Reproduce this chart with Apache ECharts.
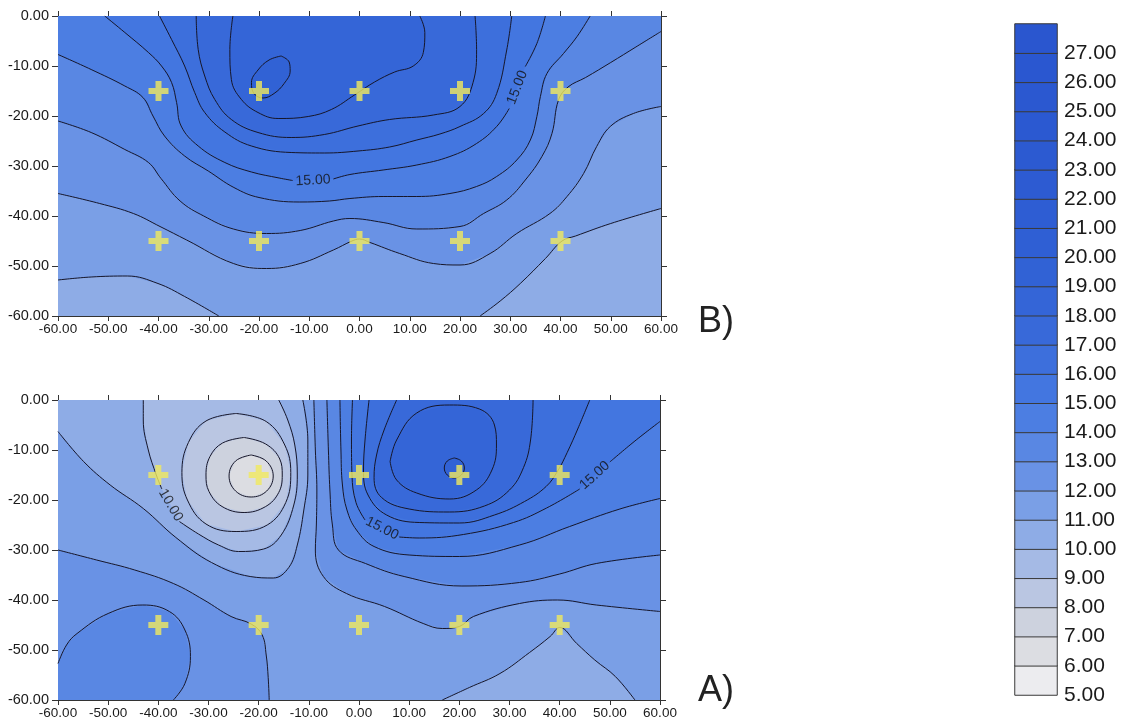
<!DOCTYPE html>
<html>
<head>
<meta charset="utf-8">
<script src="https://cdn.jsdelivr.net/npm/echarts@6/dist/echarts.min.js"></script>
<style>
html,body{margin:0;padding:0;background:#fff;}
#main{width:1135px;height:726px;}
</style>
</head>
<body>
<div id="main"></div>
<script>
// colour scale 5.00 ... 27.00
var levels = [5,6,7,8,9,10,11,12,13,14,15,16,17,18,19,20,21,22,23,24,25,26,27];
var bandColors = ['#ececef','#dcdde2','#cdd2de','#bac6e2','#a5bae5','#8eace6','#7a9fe6','#6992e5','#5987e3','#4c7ee2',
  '#4376e0','#3d6fdc','#3869d9','#3465d7','#3162d5','#2f5fd4','#2e5dd3','#2d5bd2','#2c5ad1','#2b59d1','#2b58d0','#2a57d0','#2a56cf'];

// measuring points
var wellX = [-40,-20,0,20,40];
var wellY = [-15,-45];

// ---- panel B contour lines, [x, y] in axis units
var b19 = [[-15.6,-8],[-14,-9.2],[-13.8,-11],[-15,-13.5],[-17,-15.5],[-19.2,-16.4],[-21,-15.5],[-21.5,-13.3],[-20.2,-10.8],[-18,-8.8],[-15.6,-8]];
var b18 = [[-25.2,0],[-25.8,-6.7],[-25.5,-12.7],[-23.5,-16.7],[-20.2,-19.3],[-16.2,-20.5],[-10.2,-20.1],[-5.6,-18.7],[-1,-15.8],[3,-13.2],[7,-11.2],[10.7,-10],[12.7,-7.3],[13,-3.3],[12,0]];
var b17 = [[-32.5,0],[-32.1,-6.7],[-30.8,-12],[-28.8,-16.7],[-25.5,-20.7],[-20.2,-23.3],[-13.6,-24.3],[-7,-23.7],[-0.3,-22],[6,-20.7],[14.7,-19.8],[20,-18.1],[22.6,-13.3],[23.3,-6.7],[23,0]];
var b16 = [[-39.8,0],[-37.4,-4.7],[-34.8,-10],[-32.8,-15.3],[-30.8,-19.3],[-26.8,-23.2],[-21.5,-26],[-13.6,-27.3],[-7,-27.4],[-0.3,-27],[6,-26.2],[11.4,-24.8],[16,-23.6],[20,-22.1],[24.7,-19.5],[27.3,-15.5],[29.3,-6.8],[30.3,0]];
var b15a = [[-50.7,0],[-46.7,-3.3],[-42,-7.3],[-39.4,-10],[-37.4,-13.3],[-36.4,-17.3],[-35.5,-22],[-32.1,-26],[-26.8,-29.3],[-21.5,-31.2],[-16,-32.4],[-13.3,-32.9]];
var b15b = [[-5.2,-32.6],[-1.9,-31.7],[4.7,-30.8],[11.4,-29.8],[18,-28.1],[23.3,-25.5],[27.3,-22.1],[29.8,-18.5]];
var b15c = [[33,-10.1],[35.3,-5.5],[37,0]];
var b14 = [[-60,-7.7],[-53.4,-10.7],[-46.7,-14],[-43.1,-16.3],[-41.1,-20],[-38.8,-24],[-34.8,-28],[-30.1,-31],[-25,-34.3],[-20,-36.3],[-12,-37.2],[-6,-37],[-1.9,-36.5],[4.7,-36.1],[11.4,-36.1],[18,-35.5],[23.3,-34.1],[27.3,-32.1],[31.3,-28.8],[34,-24.8],[35.3,-20.1],[36,-16.1],[37.3,-11.5],[40.6,-7.5],[43.3,-4.1],[45.9,0]];
var b13 = [[-60,-21],[-53.4,-23.3],[-46.7,-26.7],[-42,-29.3],[-39.5,-32.5],[-35.7,-37],[-31,-40],[-25.1,-42.6],[-18.5,-43.5],[-11.8,-42.9],[-5.2,-41],[-1.9,-40.5],[4.7,-41.3],[11.4,-42.6],[20,-42.1],[24.7,-39.5],[29.3,-36.8],[33,-32.8],[36.3,-28.1],[38.3,-23.5],[39.6,-16.8],[41.5,-14.2],[45,-12.3],[50,-9.3],[55,-6.2],[60,-3.1]];
var b12 = [[-60,-35.5],[-51.7,-37.5],[-45,-39.5],[-39.7,-42.1],[-34.4,-44.8],[-25.1,-49.5],[-18.5,-50.5],[-11.8,-49.5],[-5.2,-46.8],[-1.5,-45],[0,-44.6],[2.1,-45.3],[8,-47.5],[14.7,-49.5],[20,-49.8],[26,-47.5],[31.3,-43.5],[37.9,-39.5],[41.3,-36.1],[44.6,-31.5],[47.2,-26.1],[49.9,-22.1],[54.5,-19.5],[60,-18.1]];
var b11a = [[-60,-52.8],[-53.4,-52.2],[-46.2,-52],[-40.1,-53.5],[-34.8,-56.1],[-28,-60]];
var b11b = [[60,-38.5],[50,-41.5],[43,-44],[40.3,-45],[37,-48.5],[32,-53.5],[28,-57],[24,-60]];

// ---- panel A contour lines
var a19 = [[19,-11.6],[20.4,-12.2],[21,-13.6],[20.4,-15],[19,-15.6],[17.6,-15],[17,-13.6],[17.6,-12.2],[19,-11.6]];
var a18 = [[6.2,-12.3],[7.5,-8],[11.5,-2.6],[18,-1],[24,-1.8],[27,-5],[27.4,-9],[26.5,-14],[23.4,-18],[18.1,-19.8],[11.5,-18.6],[7.5,-16],[6.2,-12.3]];
var a17 = [[7.5,0],[5,-6],[3.5,-11],[3,-15.5],[4.5,-19.5],[10,-21.8],[18,-22.4],[25,-21.2],[30,-18],[32.8,-13.5],[34.2,-8],[34.7,0]];
var a16 = [[2,0],[1.2,-8],[0.9,-14],[1.8,-19],[5.5,-23],[12,-24.5],[20,-24.6],[27,-23],[33,-20.3],[37.3,-17.3],[39.6,-14.2],[41.5,-10.5],[43.6,-5.8],[46,0]];
var a15a = [[-1.3,0],[-1.5,-8],[-1.4,-15],[-0.6,-20.5],[1.2,-24]];
var a15b = [[8,-27.4],[12,-27.6],[20.8,-26.9],[30.8,-24.5],[37.4,-21.6],[44,-17.8]];
var a15c = [[50,-12.4],[55,-8.2],[60,-4.3]];
var a14 = [[-3.8,0],[-3.6,-10],[-3.3,-17],[-2.4,-22],[-0.5,-26],[3,-29.3],[10,-31],[20,-31.3],[32,-29],[42,-25.3],[52,-21.8],[60,-19.7]];
var a13 = [[-6.4,0],[-6.1,-10],[-5.8,-18],[-5.3,-25],[-4.1,-30],[1.3,-32.7],[9,-35.3],[20.5,-37.2],[32,-36.5],[40,-34.8],[47.3,-32.7],[60,-31]];
var a12 = [[-9,0],[-8.7,-10],[-8.4,-18],[-8.5,-25],[-8.7,-30],[-7.1,-35.3],[-2.5,-38.7],[5.1,-41.3],[12.8,-44.7],[16.6,-45.7],[20,-45.3],[22.8,-43.3],[32,-40.7],[39.6,-40],[47.3,-41],[60,-42.3]];
var a12l = [[-60,-30],[-52.3,-32],[-44.7,-34],[-37,-36.7],[-30.9,-40],[-25.5,-43.3],[-21.5,-44.8],[-19.3,-47],[-18.5,-51],[-18.1,-55.5],[-17.9,-60]];
var a13l = [[-60,-52.7],[-58.3,-49],[-56.2,-46.7],[-50,-42.7],[-43.1,-41],[-37.8,-42.3],[-34.7,-46],[-33.6,-51.3],[-34.7,-56.7],[-37,-60]];
var a11 = [[-60,-6.3],[-54.9,-12.3],[-49.6,-17],[-43,-21.7],[-36.5,-27.5],[-29.4,-32.5],[-21.7,-35.3],[-17.1,-35.6],[-14,-33.5],[-12.3,-29],[-11,-22],[-10.2,-15],[-10.2,-8],[-11.2,0]];
var a11v = [[16.6,-60],[22,-57.5],[28.1,-54.7],[34,-50.5],[38.1,-47.3],[40,-45.5],[43.4,-48.7],[47,-52],[51.1,-55.3],[55,-60]];
var a10a = [[-43,0],[-43,-4],[-42,-10],[-40.4,-15],[-39.3,-17.8]];
var a10b = [[-35.8,-24.3],[-32,-26.8],[-28,-29],[-24,-30.3],[-19,-29.8],[-15.5,-27],[-13,-21],[-12.3,-15],[-12.8,-9],[-14.2,-4],[-16,0]];
var a9 = [[-24.5,-2.7],[-18.5,-4.3],[-14.8,-9],[-13.6,-14.5],[-14.6,-20.5],[-18.3,-25],[-24.5,-26.3],[-30.5,-24.8],[-34.2,-20],[-35.3,-14.5],[-34,-8.5],[-30.5,-4.2],[-24.5,-2.7]];
var a8 = [[-22.9,-7.5],[-18.6,-8.8],[-15.8,-11.8],[-15.3,-15],[-16,-18.5],[-18.6,-21.3],[-22.9,-22.5],[-27.3,-21.3],[-29.9,-18.3],[-30.5,-15],[-29.7,-11.3],[-27.2,-8.6],[-22.9,-7.5]];
var a7 = [[-21.5,-11],[-18.5,-12.2],[-17.1,-15.2],[-18.4,-18.2],[-21.5,-19.4],[-24.6,-18.2],[-25.9,-15.2],[-24.6,-12.2],[-21.5,-11]];

// contour labels: x, y, angle
var labelPosB = [[-9.25,-32.9,3],[31.4,-14.3,69]];
var labelTextB = ['15.00','15.00'];
var labelPosA = [[4.6,-25.7,-27],[47,-15.1,42],[-37.55,-21.05,-60]];
var labelTextA = ['15.00','15.00','10.00'];

function rev(p) { return p.slice().reverse(); }
function bandColor(v) { return bandColors[levels.indexOf(v)]; }
var RECT = [[-60,0],[60,0],[60,-60],[-60,-60]];

// filled bands: colour band + closed outline (contour plus plot edge)
var fillsB = [
	[10, RECT],
	[11, b11a.concat(rev(b11b), [[60,0],[-60,0]])],
	[12, b12.concat([[60,0],[-60,0]])],
	[13, b13.concat([[60,0],[-60,0]])],
	[14, b14.concat([[-60,0]])],
	[15, b15a.concat(b15b, b15c)],
	[16, b16], [17, b17], [18, b18], [19, b19]
];
var fillsA = [
	[11, RECT],
	[12, a12l.concat([[-60,-60]])],
	[12, a12.concat([[60,0]])],
	[13, a13l.concat([[-60,-60]])],
	[13, a13.concat([[60,0]])],
	[14, a14.concat([[60,0]])],
	[15, a15a.concat(a15b, a15c, [[60,0]])],
	[16, a16], [17, a17], [18, a18], [19, a19],
	[10, a11.concat([[-60,0]])],
	[10, a11v],
	[9, a10a.concat(a10b)],
	[8, a9], [7, a8], [6, a7]
];
var linesB = [b19, b18, b17, b16, b15a, b15b, b15c, b14, b13, b12, b11a, b11b];
var linesA = [a19, a18, a17, a16, a15a, a15b, a15c, a14, a13, a12, a12l, a13l, a11, a11v, a10a, a10b, a9, a8, a7];

var FONT = 'Liberation Sans';
var myChart = echarts.init(document.getElementById('main'));

function valAxisX(gi, pos, labels) {
	return {
		type: 'value', gridIndex: gi, position: pos, min: -60, max: 60, interval: 10,
		axisLine: { show: true, onZero: false, lineStyle: { color: '#333', width: 1 } },
		axisTick: { show: true, length: 5, lineStyle: { color: '#333' } },
		axisLabel: { show: labels, margin: 6, fontSize: 13.5, fontFamily: FONT, color: '#1a1a1a',
			formatter: function (v) { return v.toFixed(2); } },
		splitLine: { show: false }
	};
}
function valAxisY(gi, pos, labels) {
	return {
		type: 'value', gridIndex: gi, position: pos, min: -60, max: 0, interval: 10,
		axisLine: { show: true, onZero: false, lineStyle: { color: '#333', width: 1 } },
		axisTick: { show: true, length: 6, lineStyle: { color: '#333' } },
		axisLabel: { show: labels, margin: 9, fontSize: 14.5, fontFamily: FONT, color: '#1a1a1a',
			formatter: function (v) { return v.toFixed(2); } },
		splitLine: { show: false }
	};
}

var series = [];
function addFills(fills, xi, yi) {
	series.push({
		type: 'custom', xAxisIndex: xi, yAxisIndex: yi, silent: true,
		data: fills.map(function (f, i) { return [0, -30, i]; }),
		renderItem: function (params, api) {
			var f = fills[api.value(2)];
			return {
				type: 'polygon',
				shape: { points: f[1].map(function (p) { return api.coord(p); }) },
				style: { fill: bandColor(f[0]), stroke: null }
			};
		}
	});
}
addFills(fillsB, 0, 0);
addFills(fillsA, 2, 2);

function addContours(list, xi, yi) {
	list.forEach(function (path) {
		series.push({
			type: 'line', xAxisIndex: xi, yAxisIndex: yi, data: path,
			showSymbol: false, symbol: 'none', smooth: 0.4, silent: true,
			lineStyle: { color: '#16162a', width: 1 }
		});
	});
}
addContours(linesB, 0, 0);
addContours(linesA, 2, 2);

function addLabels(pos, txt, xi, yi) {
	series.push({
		type: 'scatter', xAxisIndex: xi, yAxisIndex: yi, silent: true,
		symbolSize: 1, itemStyle: { color: 'rgba(0,0,0,0)' },
		data: pos.map(function (p, i) {
			return { name: txt[i], value: [p[0], p[1]], label: { rotate: p[2] } };
		}),
		label: { show: true, position: 'inside', formatter: '{b}', fontSize: 14, fontFamily: FONT, color: '#111' }
	});
}
addLabels(labelPosB, labelTextB, 0, 0);
addLabels(labelPosA, labelTextA, 2, 2);

var wells = [];
wellY.forEach(function (y) { wellX.forEach(function (x) { wells.push([x, y]); }); });
var plus = 'path://M7,0H13V7H20V13H13V20H7V13H0V7H7Z';
[[0, 0], [2, 2]].forEach(function (ax) {
	series.push({
		type: 'scatter', xAxisIndex: ax[0], yAxisIndex: ax[1], data: wells, silent: true,
		symbol: plus, symbolSize: 20, itemStyle: { color: '#f1ea5e' }, z: 5
	});
});

// colour bar
series.push({
	type: 'heatmap', xAxisIndex: 4, yAxisIndex: 4, silent: true,
	data: levels.map(function (v, i) { return [0, i, v + 0.5]; }),
	itemStyle: { borderColor: '#3a3a3a', borderWidth: 1 }
});

option = {
	backgroundColor: '#ffffff',
	animation: false,
	grid: [
		{ left: 58, top: 16, width: 603, height: 300 },
		{ left: 58, top: 400, width: 602, height: 300 },
		{ left: 1015, top: 24, width: 42, height: 671 }
	],
	xAxis: [
		valAxisX(0, 'bottom', true), valAxisX(0, 'top', false),
		valAxisX(1, 'bottom', true), valAxisX(1, 'top', false),
		{ type: 'category', gridIndex: 2, data: ['c'], show: false }
	],
	yAxis: [
		valAxisY(0, 'left', true), valAxisY(0, 'right', false),
		valAxisY(1, 'left', true), valAxisY(1, 'right', false),
		{ type: 'category', gridIndex: 2, data: levels.map(String), show: false },
		{
			type: 'value', gridIndex: 2, position: 'right', min: 5, max: 28, interval: 1,
			axisLine: { show: false }, axisTick: { show: false }, splitLine: { show: false },
			axisLabel: { margin: 7, fontSize: 21, fontFamily: FONT, color: '#1a1a1a',
				formatter: function (v) { return v >= 28 ? '' : v.toFixed(2); } }
		}
	],
	visualMap: {
		type: 'piecewise', show: false, seriesIndex: series.length - 1,
		pieces: levels.map(function (v, i) { return { gte: v, lt: v + 1, color: bandColors[i] }; })
	},
	graphic: [
		{ type: 'text', left: 698, top: 304, style: { text: 'B)', font: '36px "Liberation Sans"', fill: '#222' } },
		{ type: 'text', left: 698, top: 673, style: { text: 'A)', font: '36px "Liberation Sans"', fill: '#222' } }
	],
	series: series
};
myChart.setOption(option);
window.onresize = myChart.resize;
</script>
</body>
</html>
